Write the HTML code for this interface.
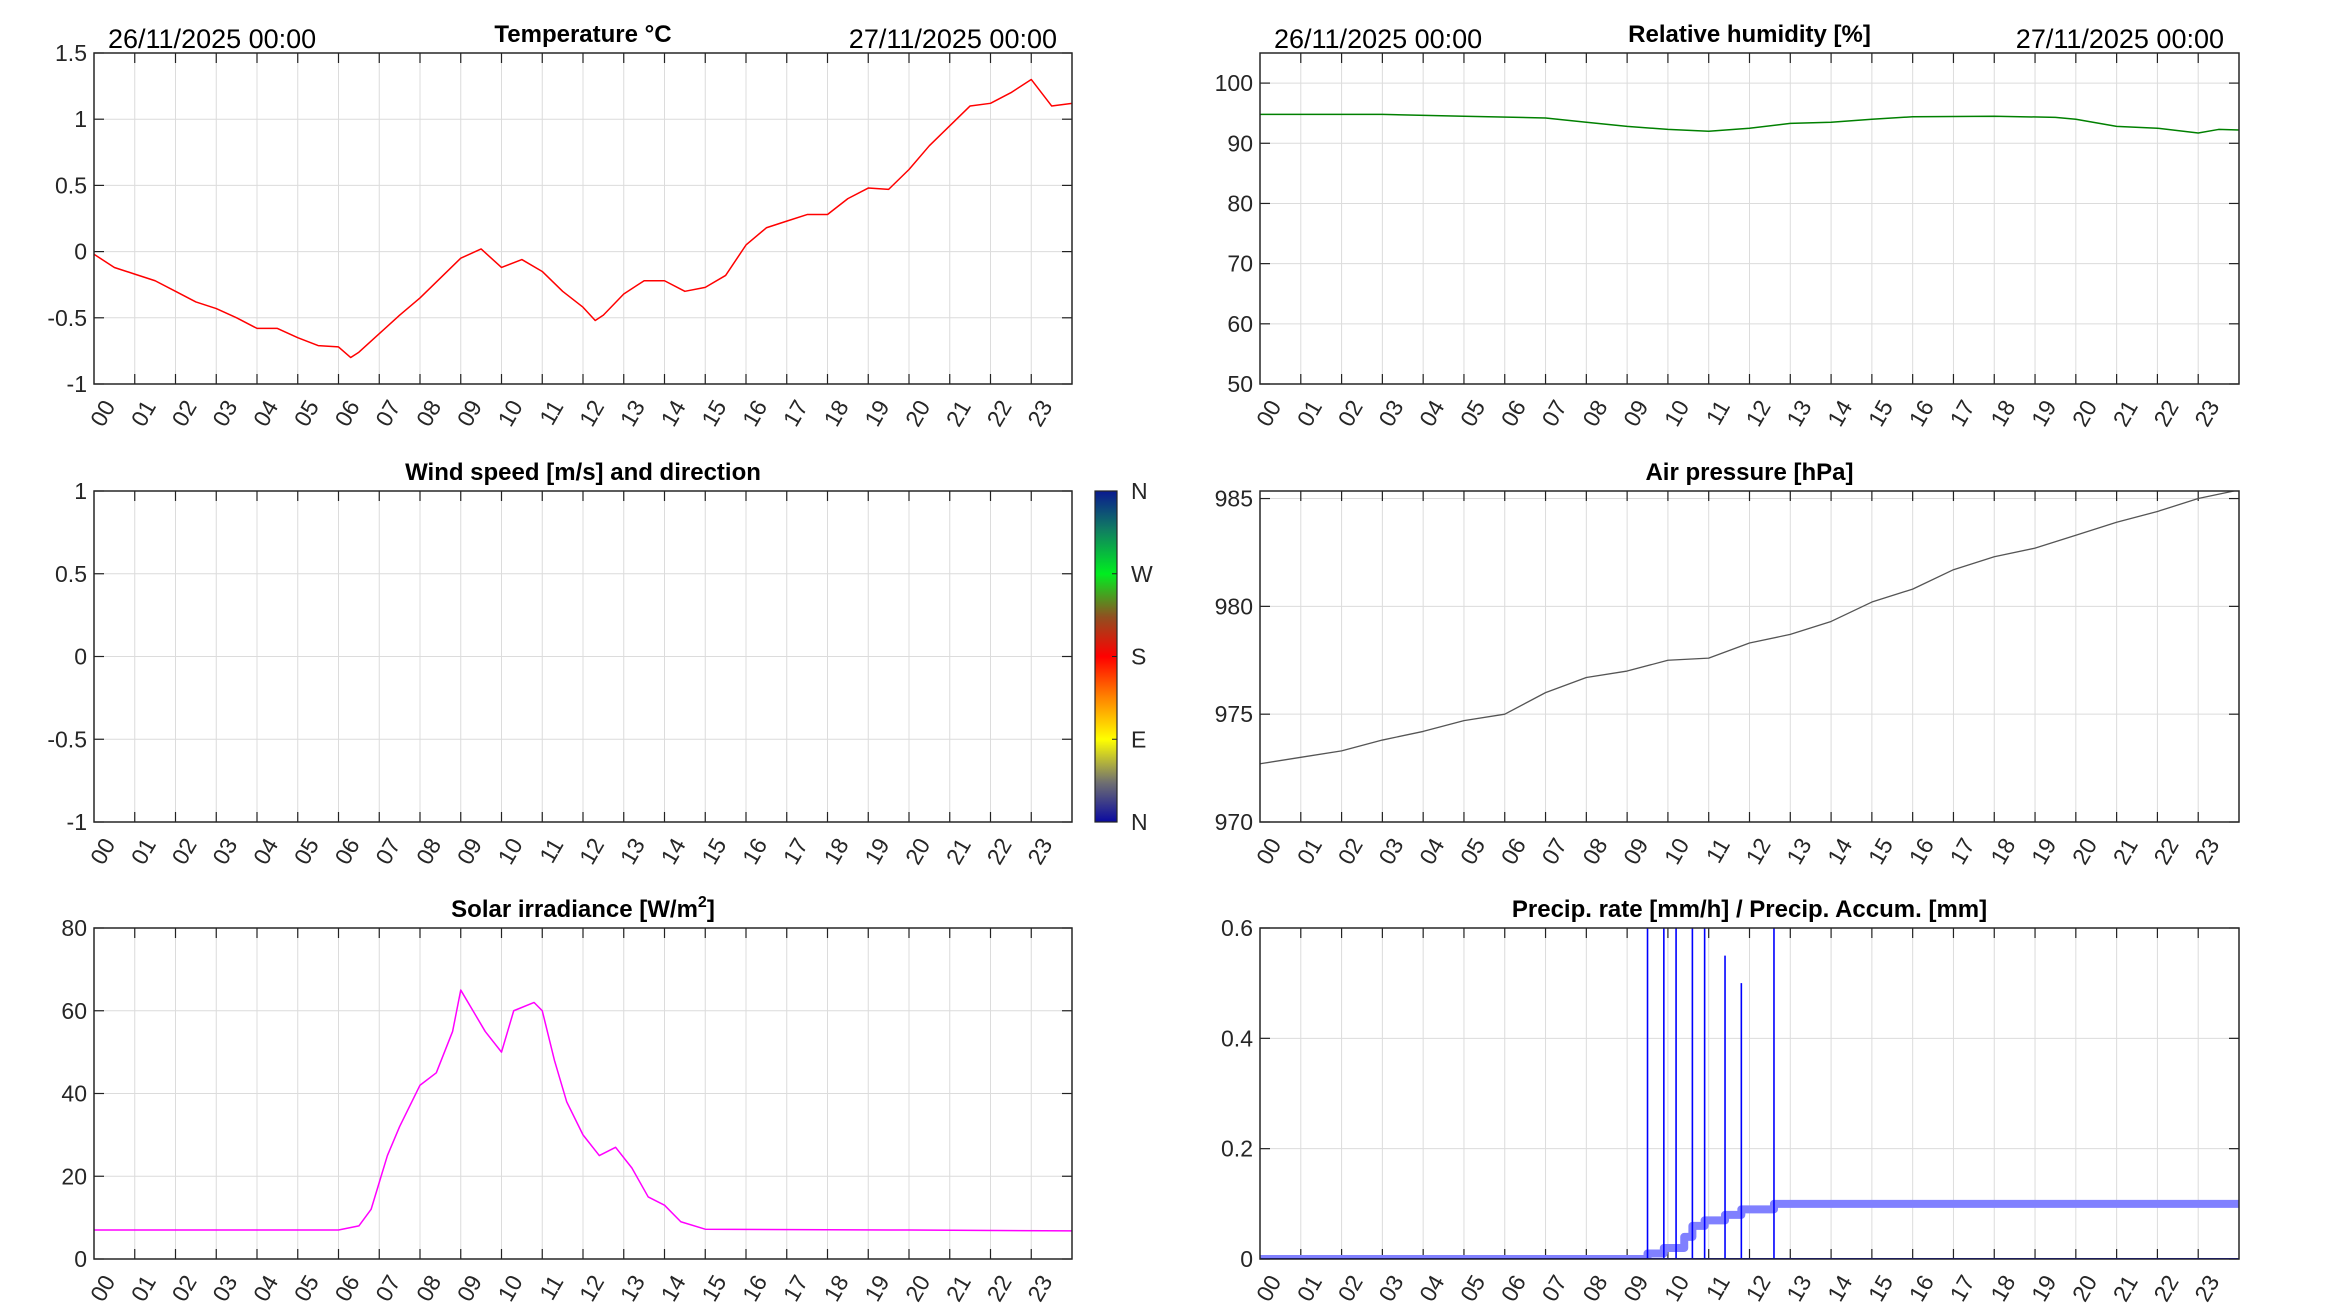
<!DOCTYPE html>
<html><head><meta charset="utf-8"><style>
html,body{margin:0;padding:0;background:#fff;}
svg{display:block;font-family:"Liberation Sans",sans-serif;}
</style></head><body>
<svg id="chart" width="2333" height="1313" viewBox="0 0 2333 1313" xmlns="http://www.w3.org/2000/svg">
<defs>
<linearGradient id="dirgrad" x1="0" y1="1" x2="0" y2="0">
<stop offset="0" stop-color="#0a0aa0"/>
<stop offset="0.12" stop-color="#707070"/>
<stop offset="0.25" stop-color="#ffff00"/>
<stop offset="0.38" stop-color="#ff8000"/>
<stop offset="0.5" stop-color="#ff0000"/>
<stop offset="0.62" stop-color="#905020"/>
<stop offset="0.75" stop-color="#00ee20"/>
<stop offset="0.88" stop-color="#108060"/>
<stop offset="1" stop-color="#0a1a90"/>
</linearGradient>
</defs>
</svg>
<script>
// ---- data ----
const tempT=[0,0.5,1,1.5,2,2.5,3,3.5,4,4.5,5,5.5,6,6.3,6.5,7,7.5,8,8.5,9,9.5,10,10.5,11,11.5,12,12.3,12.5,13,13.5,14,14.5,15,15.5,16,16.5,17,17.5,18,18.5,19,19.5,20,20.5,21,21.5,22,22.5,23,23.5,24];
const tempV=[-0.02,-0.12,-0.17,-0.22,-0.3,-0.38,-0.43,-0.5,-0.58,-0.58,-0.65,-0.71,-0.72,-0.8,-0.76,-0.62,-0.48,-0.35,-0.2,-0.05,0.02,-0.12,-0.06,-0.15,-0.3,-0.42,-0.52,-0.48,-0.32,-0.22,-0.22,-0.3,-0.27,-0.18,0.05,0.18,0.23,0.28,0.28,0.4,0.48,0.47,0.62,0.8,0.95,1.1,1.12,1.2,1.3,1.1,1.12];
const humT=[0,3,5,7,8,9,10,11,12,13,14,15,16,18,19.5,20,21,22,23,23.5,24];
const humV=[94.8,94.8,94.5,94.2,93.5,92.8,92.3,92,92.5,93.3,93.5,94,94.4,94.5,94.3,94,92.8,92.5,91.7,92.3,92.2];
const presT=[0,1,2,3,4,5,6,7,8,9,10,11,12,13,14,15,16,17,18,19,20,21,22,23,24];
const presV=[972.7,973,973.3,973.8,974.2,974.7,975,976,976.7,977,977.5,977.6,978.3,978.7,979.3,980.2,980.8,981.7,982.3,982.7,983.3,983.9,984.4,985,985.4];
const solT=[0,6,6.5,6.8,7.2,7.5,8,8.4,8.8,9,9.3,9.6,10,10.3,10.8,11,11.3,11.6,12,12.4,12.8,13.2,13.6,14,14.4,15,20,24];
const solV=[7,7,8,12,25,32,42,45,55,65,60,55,50,60,62,60,48,38,30,25,27,22,15,13,9,7.2,7,6.8];
const rateT=[9.5,9.9,10.2,10.6,10.9,11.4,11.8,12.6];
const rateV=[0.7,0.7,0.7,0.7,0.7,0.55,0.5,0.7];
const accT=[0,9.5,9.9,10.4,10.6,10.9,11.4,11.8,12.6,24];
const accV=[0,0.01,0.02,0.04,0.06,0.07,0.08,0.09,0.1,0.1];
const hourLabels=["00","01","02","03","04","05","06","07","08","09","10","11","12","13","14","15","16","17","18","19","20","21","22","23"];
const tempTicks=[-1,-0.5,0,0.5,1,1.5];
const humTicks=[50,60,70,80,90,100];
const windTicks=[-1,-0.5,0,0.5,1];
const presTicks=[970,975,980,985];
const solTicks=[0,20,40,60,80];
const precTicks=[0,0.2,0.4,0.6];

const NS="http://www.w3.org/2000/svg";
const svg=document.getElementById('chart');
function mk(tag,attrs,parent){const e=document.createElementNS(NS,tag);for(const k in attrs)e.setAttribute(k,attrs[k]);(parent||svg).appendChild(e);return e;}

function panel(name,x0,y0,w,h,ymin,ymax,yticks,title,opts){
  const g=mk('g',{});
  
  
  const sx=t=>x0+t/24*w, sy=v=>y0+h-(v-ymin)/(ymax-ymin)*h;
  for(let i=1;i<24;i++){const l=mk('line',{x1:sx(i),x2:sx(i),y1:y0,y2:y0+h,stroke:'#dcdcdc','stroke-width':1},g);
    }
  yticks.forEach(v=>{const y=sy(v);
    if(y>y0+1&&y<y0+h-1){const l=mk('line',{x1:x0,x2:x0+w,y1:y,y2:y,stroke:'#dcdcdc','stroke-width':1},g);
      }
  });
  for(let i=1;i<24;i++){mk('line',{x1:sx(i),x2:sx(i),y1:y0+h,y2:y0+h-10,stroke:'#222','stroke-width':1.2},g);
    mk('line',{x1:sx(i),x2:sx(i),y1:y0,y2:y0+10,stroke:'#222','stroke-width':1.2},g);}
  yticks.forEach(v=>{const y=sy(v);
    mk('line',{x1:x0,x2:x0+10,y1:y,y2:y,stroke:'#222','stroke-width':1.2},g);
    mk('line',{x1:x0+w,x2:x0+w-10,y1:y,y2:y,stroke:'#222','stroke-width':1.2},g);
    const t=mk('text',{x:x0-7,y:y+8,'text-anchor':'end','font-size':23,fill:'#262626'},g);
    t.textContent=String(v);
    
  });
  hourLabels.forEach((lb,i)=>{const x=sx(i);
    const t=mk('text',{x:x+8,y:y0+h+14,'text-anchor':'end','font-size':23,fill:'#262626',transform:`rotate(-60 ${x+8} ${y0+h+14})`},g);
    t.setAttribute('dy','0.7em');
    t.textContent=lb;
    
  });
  const tt=mk('text',{x:x0+w/2,y:y0-11,'text-anchor':'middle','font-size':24,'font-weight':'bold',fill:'#000'},g);
  
  if(opts&&opts.solar){tt.innerHTML='Solar irradiance [W/m<tspan font-size="16" dy="-10">2</tspan><tspan dy="10">]</tspan>';}
  else tt.textContent=title;
  if(opts&&opts.dates){
    const a=mk('text',{x:x0+14,y:y0-5,'font-size':27,fill:'#000'},g);a.textContent='26/11/2025 00:00';
    
    const b=mk('text',{x:x0+w-15,y:y0-5,'text-anchor':'end','font-size':27,fill:'#000'},g);b.textContent='27/11/2025 00:00';
    
  }
  const clipId='clip-'+name;
  const cp=mk('clipPath',{id:clipId},g);mk('rect',{x:x0,y:y0,width:w,height:h},cp);
  const plot=mk('g',{'clip-path':`url(#${clipId})`},g);
  return {g,plot,sx,sy,box:()=>{const r=mk('rect',{x:x0,y:y0,width:w,height:h,fill:'none',stroke:'#262626','stroke-width':1.5},g);
    }};
}
function line(p,ts,vs,color,width,name,step){
  let pts=[];
  for(let i=0;i<ts.length;i++){
    if(step&&i>0)pts.push(p.sx(ts[i])+','+p.sy(vs[i-1]));
    pts.push(p.sx(ts[i])+','+p.sy(vs[i]));
  }
  const l=mk('polyline',{points:pts.join(' '),fill:'none',stroke:color,'stroke-width':width,'stroke-linejoin':'round'},p.plot);
  
  
}
const LX=94,LW=978,RX=1260,RW=979,H=331,Y1=53,Y2=491,Y3=928;

let p=panel('temperature',LX,Y1,LW,H,-1,1.5,tempTicks,'Temperature °C',{dates:true});
line(p,tempT,tempV,'#ff0000',1.5,'temperature-line');p.box();

p=panel('humidity',RX,Y1,RW,H,50,105,humTicks,'Relative humidity [%]',{dates:true});
line(p,humT,humV,'#008000',1.5,'humidity-line');p.box();

p=panel('wind',LX,Y2,LW,H,-1,1,windTicks,'Wind speed [m/s] and direction');p.box();
const cb=mk('rect',{x:1095,y:Y2,width:22,height:H,fill:'url(#dirgrad)',stroke:'#262626','stroke-width':1.2});

['N','E','S','W','N'].forEach((d,i)=>{const y=Y2+H-i*H/4;
  mk('line',{x1:1112,x2:1117,y1:y,y2:y,stroke:'#222'});
  const t=mk('text',{x:1131,y:y+8,'font-size':23,fill:'#262626'});t.textContent=d;
  });

p=panel('pressure',RX,Y2,RW,H,970,985.35,presTicks,'Air pressure [hPa]');
line(p,presT,presV,'#555555',1.3,'pressure-line');p.box();

p=panel('solar',LX,Y3,LW,H,0,80,solTicks,'',{solar:true});
line(p,solT,solV,'#ff00ff',1.5,'solar-line');p.box();

p=panel('precip',RX,Y3,RW,H,0,0.6,precTicks,'Precip. rate [mm/h] / Precip. Accum. [mm]');
line(p,accT,accV,'#8080ff',8,'accumulation-line',true);
line(p,[0,24],[0,0],'#0000ff',2,'rate-baseline');
rateT.forEach((t,i)=>{const l=mk('line',{x1:p.sx(t),x2:p.sx(t),y1:p.sy(0),y2:p.sy(rateV[i]),stroke:'#0000ff','stroke-width':1.6},p.plot);
  });
p.box();
</script>
</body></html>
